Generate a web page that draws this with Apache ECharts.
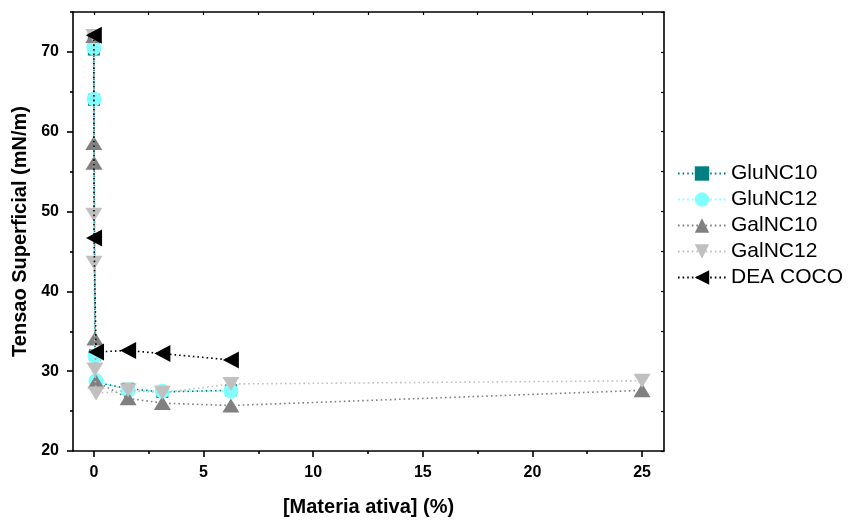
<!DOCTYPE html>
<html>
<head>
<meta charset="utf-8">
<script src="https://cdn.jsdelivr.net/npm/echarts@6/dist/echarts.min.js"></script>
<style>
html,body{margin:0;padding:0;background:#fff;}
#chart{width:849px;height:522px;}
</style>
</head>
<body>
<div id="chart"></div>
<script>
// Concentration (%) values
const xGluNC10 = [0.0001, 0.001, 0.01, 0.05, 0.1, 1.5625, 3.125, 6.25];
const yGluNC10 = [71.8, 70.3, 64.0, 32.0, 28.6, 27.8, 27.4, 27.6];
const xGluNC12 = [0.001, 0.01, 0.05, 0.1, 1.5625, 3.125, 6.25];
const yGluNC12 = [70.5, 64.1, 31.9, 28.8, 27.6, 27.5, 27.5];
const xGalNC10 = [0.0001, 0.001, 0.01, 0.05, 0.1, 1.5625, 3.125, 6.25, 25];
const yGalNC10 = [72.0, 58.6, 56.1, 34.1, 28.7, 26.6, 26.0, 25.7, 27.6];
const xGalNC12 = [0.0001, 0.001, 0.01, 0.05, 0.1, 1.5625, 3.125, 6.25, 25];
const yGalNC12 = [72.0, 49.6, 43.6, 30.2, 27.2, 27.6, 27.3, 28.4, 28.8];
const xDEA = [0.0001, 0.01, 0.1, 1.5625, 3.125, 6.25];
const yDEA = [72.1, 46.7, 32.4, 32.6, 32.2, 31.4];

const seriesNames = ['GluNC10', 'GluNC12', 'GalNC10', 'GalNC12', 'DEA COCO'];
const xMajorTicks = [0, 5, 10, 15, 20, 25];
const xMinorTicks = [2.5, 7.5, 12.5, 17.5, 22.5];
const yMajorTicks = [20, 30, 40, 50, 60, 70];
const yMinorTicks = [25, 35, 45, 55, 65, 75];
const xTitle = '[Materia ativa] (%)';
const yTitle = 'Tensao Superficial (mN/m)';

function pairs(xs, ys) { return xs.map((x, i) => [x, ys[i]]); }

const X_MIN = -0.95, X_MAX = 26, Y_MIN = 20, Y_MAX = 75;
const lineColor = '#000';
const FONT = 'Arial, "Liberation Sans", sans-serif';
const labelFont = { fontFamily: FONT, fontWeight: 'bold', fontSize: 16, color: '#000' };

const chart = echarts.init(document.getElementById('chart'), null, { renderer: 'canvas' });

function mkSeries(name, data, color, symbol, size, rotate, z) {
  return {
    name: name, type: 'line', data: data,
    symbol: symbol, symbolSize: size, symbolRotate: rotate,
    showSymbol: true, animation: false, z: z,
    lineStyle: { color: color, width: 1.6, type: [1.6, 3] },
    itemStyle: { color: color, borderWidth: 0 },
    emphasis: { disabled: true }
  };
}

const option = {
  backgroundColor: '#fff',
  animation: false,
  grid: { left: 73, right: 185, top: 12, bottom: 70, containLabel: false },
  legend: {
    orient: 'vertical', left: 672, top: 158,
    itemWidth: 48, itemHeight: 18, itemGap: 5,
    textStyle: { fontFamily: FONT, fontSize: 21, color: '#000' },
    data: seriesNames
  },
  xAxis: [
    {
      type: 'value', position: 'bottom', min: X_MIN, max: X_MAX,
      name: xTitle, nameLocation: 'middle', nameGap: 46,
      nameTextStyle: { fontFamily: FONT, fontWeight: 'bold', fontSize: 20, color: '#000' },
      axisLine: { show: true, onZero: false, lineStyle: { color: lineColor, width: 1.6 } },
      axisTick: { show: true, inside: false, length: 6, customValues: xMajorTicks, lineStyle: { color: lineColor, width: 1.6 } },
      axisLabel: Object.assign({ margin: 14, customValues: xMajorTicks }, labelFont),
      splitLine: { show: false }
    },
    {
      type: 'value', position: 'bottom', min: X_MIN, max: X_MAX,
      axisLine: { show: false, onZero: false },
      axisTick: { show: true, inside: false, length: 3, customValues: xMinorTicks, lineStyle: { color: lineColor, width: 1.6 } },
      axisLabel: { show: false },
      splitLine: { show: false }
    },
    {
      type: 'value', position: 'top', min: X_MIN, max: X_MAX,
      axisLine: { show: true, onZero: false, lineStyle: { color: lineColor, width: 1.6 } },
      axisTick: { show: true, inside: true, length: 3, customValues: xMajorTicks.concat(xMinorTicks), lineStyle: { color: lineColor, width: 1.2 } },
      axisLabel: { show: false },
      splitLine: { show: false }
    }
  ],
  yAxis: [
    {
      type: 'value', position: 'left', min: Y_MIN, max: Y_MAX,
      name: yTitle, nameLocation: 'middle', nameGap: 43, nameRotate: 90,
      nameTextStyle: { fontFamily: FONT, fontWeight: 'bold', fontSize: 20, color: '#000' },
      axisLine: { show: true, onZero: false, lineStyle: { color: lineColor, width: 1.6 } },
      axisTick: { show: true, inside: false, length: 6, customValues: yMajorTicks, lineStyle: { color: lineColor, width: 1.6 } },
      axisLabel: Object.assign({ margin: 14, customValues: yMajorTicks }, labelFont),
      splitLine: { show: false }
    },
    {
      type: 'value', position: 'left', min: Y_MIN, max: Y_MAX,
      axisLine: { show: false, onZero: false },
      axisTick: { show: true, inside: false, length: 3, customValues: yMinorTicks, lineStyle: { color: lineColor, width: 1.6 } },
      axisLabel: { show: false },
      splitLine: { show: false }
    },
    {
      type: 'value', position: 'right', min: Y_MIN, max: Y_MAX,
      axisLine: { show: true, onZero: false, lineStyle: { color: lineColor, width: 1.6 } },
      axisTick: { show: true, inside: true, length: 3, customValues: yMajorTicks.concat(yMinorTicks), lineStyle: { color: lineColor, width: 1.2 } },
      axisLabel: { show: false },
      splitLine: { show: false }
    }
  ],
  series: [
    mkSeries(seriesNames[0], pairs(xGluNC10, yGluNC10), '#008080', 'rect', 12, 0, 2),
    mkSeries(seriesNames[1], pairs(xGluNC12, yGluNC12), '#80FFFF', 'circle', 15, 0, 3),
    mkSeries(seriesNames[2], pairs(xGalNC10, yGalNC10), '#808080', 'triangle', [17, 14], 0, 4),
    mkSeries(seriesNames[3], pairs(xGalNC12, yGalNC12), '#C0C0C0', 'triangle', [17, 14], 180, 5),
    mkSeries(seriesNames[4], pairs(xDEA, yDEA), '#000000', 'triangle', [17, 16], 90, 6)
  ]
};
chart.setOption(option);
</script>
</body>
</html>
